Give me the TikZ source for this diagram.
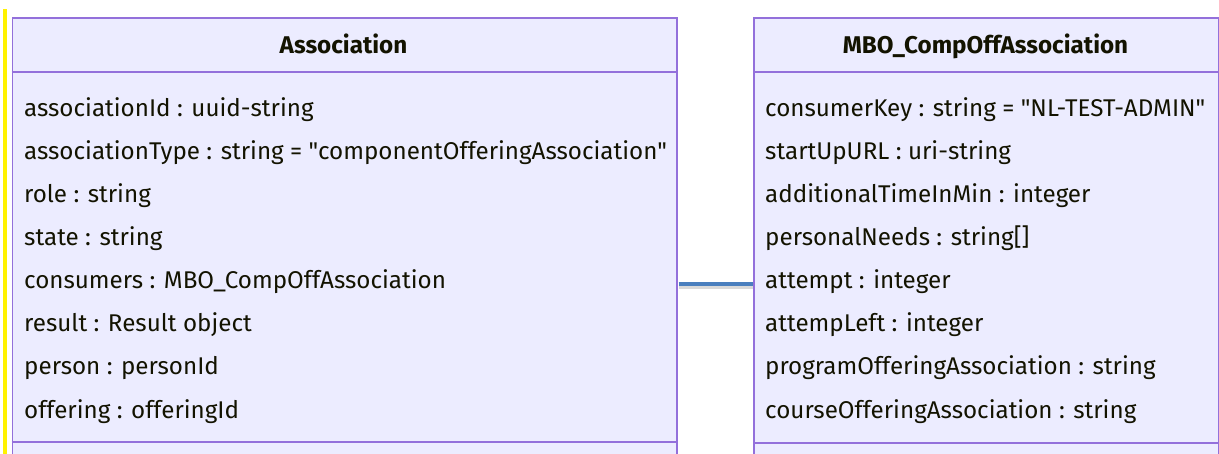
\documentclass[tikz,border=0pt]{standalone}
\usepackage{fontspec}
\setmainfont{Fira Sans}[Ligatures=TeXOff]
\definecolor{boxfill}{HTML}{ECECFF}
\definecolor{boxline}{HTML}{9370DB}
\definecolor{txt}{HTML}{131300}
\definecolor{link}{RGB}{74,127,190}
\tikzset{
  umlbox/.style={draw=boxline, fill=boxfill, line width=1.6pt, inner sep=0pt},
  divider/.style={draw=boxline, line width=1.6pt},
  rowtext/.style={anchor=base west, inner sep=0pt, text=txt, font=\fontsize{24.2}{28}\selectfont},
  titletext/.style={anchor=base, inner sep=0pt, text=txt, font=\fontsize{24.2}{28}\selectfont\bfseries},
  linkline/.style={draw=link, line width=3.5pt},
  linkshadow/.style={draw=black, opacity=0.15, line width=4pt}
}
\begin{document}
\begin{tikzpicture}[x=1pt,y=-1pt]
\useasboundingbox (0,0) rectangle (1219,454);
\clip (0,0) rectangle (1219,454);
\fill[yellow] (3,9) rectangle (7,460);
% boxes
\node[umlbox, minimum width=664.5pt, minimum height=450pt, anchor=north west] (assoc) at (11.5,17) {};
\node[umlbox, minimum width=465pt, minimum height=450pt, anchor=north west] (mbo) at (753,17) {};
\draw[divider] (assoc.west |- 0,72) -- (assoc.east |- 0,72);
\draw[divider] (assoc.west |- 0,442) -- (assoc.east |- 0,442);
\draw[divider] (mbo.west |- 0,72) -- (mbo.east |- 0,72);
\draw[divider] (mbo.west |- 0,443) -- (mbo.east |- 0,443);
% titles
\node[titletext] (assoctitle) at (343.5,54) {Association};
\node[titletext] (mbotitle) at (985.5,54) {MBO\_CompOffAssociation};
% left rows
\node[rowtext] (a1) at (24,117) {associationId : uuid-string};
\node[rowtext] (a2) at (24,160) {associationType : string = "componentOfferingAssociation"};
\node[rowtext] (a3) at (24,203) {role : string};
\node[rowtext] (a4) at (24,246) {state : string};
\node[rowtext] (a5) at (24,289) {consumers : MBO\_CompOffAssociation};
\node[rowtext] (a6) at (24,332) {result : Result object};
\node[rowtext] (a7) at (24,375) {person : personId};
\node[rowtext] (a8) at (24,418) {offering : offeringId};
% right rows
\node[rowtext] (b1) at (765,117) {consumerKey : string = "NL-TEST-ADMIN"};
\node[rowtext] (b2) at (765,160) {startUpURL : uri-string};
\node[rowtext] (b3) at (765,203) {additionalTimeInMin : integer};
\node[rowtext] (b4) at (765,246) {personalNeeds : string[]};
\node[rowtext] (b5) at (765,289) {attempt : integer};
\node[rowtext] (b6) at (765,332) {attempLeft : integer};
\node[rowtext] (b7) at (765,375) {programOfferingAssociation : string};
\node[rowtext] (b8) at (765,418) {courseOfferingAssociation : string};
% connector
\draw[linkshadow] ([xshift=1pt]assoc.east |- 0,287) -- (mbo.west |- 0,287);
\draw[linkline] ([xshift=1pt]assoc.east |- 0,284) -- (mbo.west |- 0,284);
\end{tikzpicture}
\end{document}
